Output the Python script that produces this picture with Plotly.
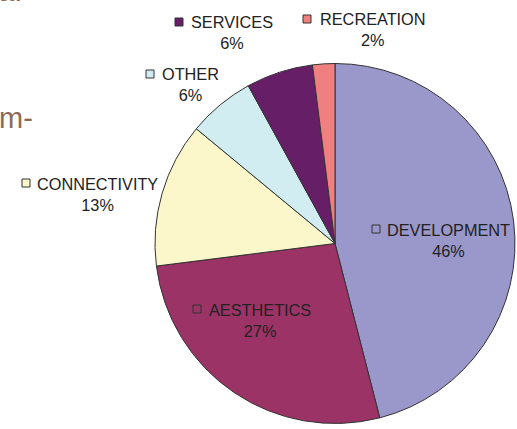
import plotly.graph_objects as go

# ---- data ----
categories = ["DEVELOPMENT", "AESTHETICS", "CONNECTIVITY", "OTHER", "SERVICES", "RECREATION"]
shares = [46, 27, 13, 6, 6, 2]
pct_labels = ["46%", "27%", "13%", "6%", "6%", "2%"]

# ---- styles ----
colors = ["#9A97CB", "#9B3366", "#FBF7CB", "#D2EDF2", "#661E66", "#F08080"]
W, H = 517, 429
# label block centres (px) and legend-square top-left (px)
label_pos = [(448, 240.5), (259.5, 320), (97.5, 194), (190, 84), (232, 32), (372.5, 29)]
square_pos = [(372, 225), (193, 305), (22, 179), (146, 70), (175, 18), (303, 15)]
SQ = 8
FONT = "Liberation Sans, Arial, sans-serif"

def px(x):
    return x / W

def py(y):
    return 1 - y / H

fig = go.Figure(go.Pie(
    labels=categories,
    values=shares,
    sort=False,
    direction="clockwise",
    rotation=0,
    marker=dict(colors=colors, line=dict(color="#333333", width=1)),
    textinfo="none",
    hoverinfo="label+percent",
    domain=dict(x=[px(155), px(515)], y=[py(423.5), py(63.5)]),
    showlegend=False,
))

annotations = []
shapes = []
for i, cat in enumerate(categories):
    cx, cy = label_pos[i]
    annotations.append(dict(
        x=px(cx), y=py(cy), xref="paper", yref="paper",
        text=f"{cat}<br>{pct_labels[i]}", showarrow=False,
        xanchor="center", yanchor="middle", align="center",
        font=dict(family=FONT, size=16.3, color="#222222"),
    ))
    sx, sy = square_pos[i]
    shapes.append(dict(
        type="rect", xref="paper", yref="paper",
        x0=px(sx), x1=px(sx + SQ), y0=py(sy + SQ), y1=py(sy),
        fillcolor=colors[i], line=dict(color="#333333", width=1),
    ))

# slide text fragments visible at left edge (cut off in the reference too)
annotations.append(dict(x=px(-4), y=py(-9), xref="paper", yref="paper", text="a.",
                        showarrow=False, xanchor="left", yanchor="middle",
                        font=dict(family=FONT, size=29, color="#8B6A56")))
annotations.append(dict(x=px(-3), y=py(118), xref="paper", yref="paper", text="m-",
                        showarrow=False, xanchor="left", yanchor="middle",
                        font=dict(family=FONT, size=29, color="#8B6A56")))

fig.update_layout(
    width=W, height=H,
    margin=dict(l=0, r=0, t=0, b=0),
    paper_bgcolor="white", plot_bgcolor="white",
    annotations=annotations, shapes=shapes,
)

fig.write_html("out.html")
